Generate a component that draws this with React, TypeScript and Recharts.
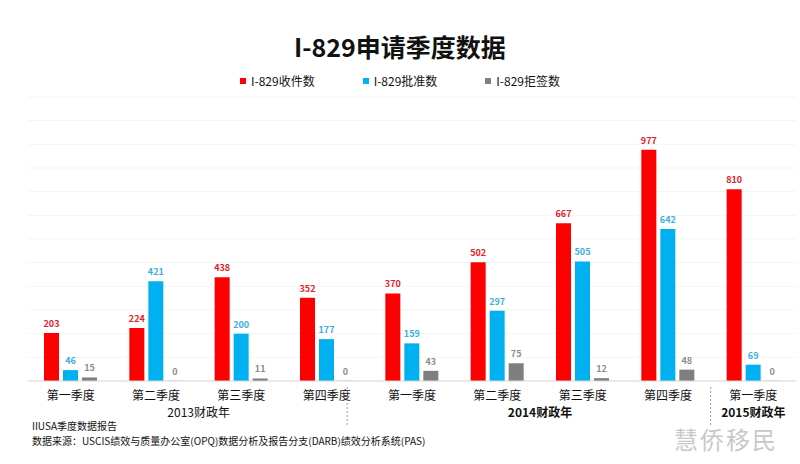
import React from 'react';
import { BarChart, Bar, XAxis, YAxis, CartesianGrid, LabelList } from 'recharts';

const quarters = ['第一季度', '第二季度', '第三季度', '第四季度', '第一季度', '第二季度', '第三季度', '第四季度', '第一季度'];
const received = [203, 224, 438, 352, 370, 502, 667, 977, 810];
const approved = [46, 421, 200, 177, 159, 297, 505, 642, 69];
const denied = [15, 0, 11, 0, 43, 75, 12, 48, 0];

const yTicks = [0, 100, 200, 300, 400, 500, 600, 700, 800, 900, 1000, 1100, 1200];

// fiscal year groups: first/last quarter index, label, bold
const years = [
  { label: '2013财政年', start: 0, end: 3, bold: false },
  { label: '2014财政年', start: 4, end: 7, bold: true },
  { label: '2015财政年', start: 8, end: 8, bold: true },
];
// dotted separators: after index, fraction of band width
const separators = [
  { after: 3, frac: 0.24 },
  { after: 7, frac: 0.5 },
];

const series = [
  { key: 'received', name: 'I-829收件数', color: '#ff0000', label: '#e0202a' },
  { key: 'approved', name: 'I-829批准数', color: '#00b0f0', label: '#3aaedc' },
  { key: 'denied', name: 'I-829拒签数', color: '#7f7f7f', label: '#8c8c8c' },
];

const data = quarters.map((q, i) => ({
  q,
  received: received[i],
  approved: approved[i],
  denied: denied[i],
}));

const W = 800;
const H = 464;
const M = { top: 97, right: 4, left: 28, bottom: 38 };
const BAND = (W - M.left - M.right) / quarters.length;
const FONT = '"Noto Sans CJK SC", "Noto Sans", sans-serif';

function QuarterTick(props: any) {
  const { x, y, payload, index } = props;
  const year = years.find((yr) => yr.start === index);
  const sep = separators.find((s) => s.after === index);
  return (
    <g>
      <text x={x} y={y + 11} textAnchor="middle" fontSize={12} fill="#111" fontFamily={FONT}>
        {payload.value}
      </text>
      {year && (
        <text
          x={x + ((year.end - year.start) * BAND) / 2}
          y={y + 28}
          textAnchor="middle"
          fontSize={12}
          fontWeight={year.bold ? 'bold' : 'normal'}
          fill="#111"
          fontFamily={FONT}
        >
          {year.label}
        </text>
      )}
      {sep && (
        <line
          x1={x + BAND * sep.frac}
          x2={x + BAND * sep.frac}
          y1={y - 2}
          y2={y + 36}
          stroke="#9a9aa6"
          strokeDasharray="2 2"
        />
      )}
    </g>
  );
}

export default function App() {
  return (
    <div style={{ position: 'absolute', left: 0, top: 0, width: W, height: H, background: '#fff', fontFamily: FONT }}>
      <div
        style={{
          position: 'absolute',
          top: 28,
          width: W,
          textAlign: 'center',
          fontSize: 25,
          fontWeight: 'bold',
          color: '#111',
        }}
      >
        I-829申请季度数据
      </div>
      <div
        style={{
          position: 'absolute',
          top: 72,
          width: W,
          display: 'flex',
          justifyContent: 'center',
          gap: 48,
          fontSize: 12,
          color: '#111',
        }}
      >
        {series.map((s) => (
          <div key={s.key} style={{ display: 'flex', alignItems: 'center' }}>
            <span style={{ width: 6, height: 6, background: s.color, marginRight: 5, display: 'inline-block' }} />
            {s.name}
          </div>
        ))}
      </div>
      <BarChart width={W} height={H} data={data} margin={M} barSize={15} barGap={4}>
        <CartesianGrid vertical={false} stroke="#f5f5f5" />
        <YAxis hide domain={[0, 1200]} ticks={yTicks} />
        <XAxis
          dataKey="q"
          height={45}
          interval={0}
          tickLine={false}
          axisLine={{ stroke: '#d9d9d9' }}
          tick={<QuarterTick />}
        />
        {series.map((s) => (
          <Bar
            key={s.key}
            dataKey={s.key}
            name={s.name}
            fill={s.color}
            minPointSize={0.2}
            isAnimationActive={false}
          >
            <LabelList
              dataKey={s.key}
              position="top"
              offset={6}
              fontSize={9}
              fontWeight="bold"
              fill={s.label}
              fontFamily={FONT}
            />
          </Bar>
        ))}
      </BarChart>
      <div style={{ position: 'absolute', left: 32, top: 418, fontSize: 10, color: '#111' }}>IIUSA季度数据报告</div>
      <div style={{ position: 'absolute', left: 32, top: 433, fontSize: 10, color: '#111' }}>
        数据来源：USCIS绩效与质量办公室(OPQ)数据分析及报告分支(DARB)绩效分析系统(PAS)
      </div>
      <div style={{ position: 'absolute', left: 674, top: 421, fontSize: 24, color: '#c8c8c8', letterSpacing: 2 }}>
        慧侨移民
      </div>
    </div>
  );
}
